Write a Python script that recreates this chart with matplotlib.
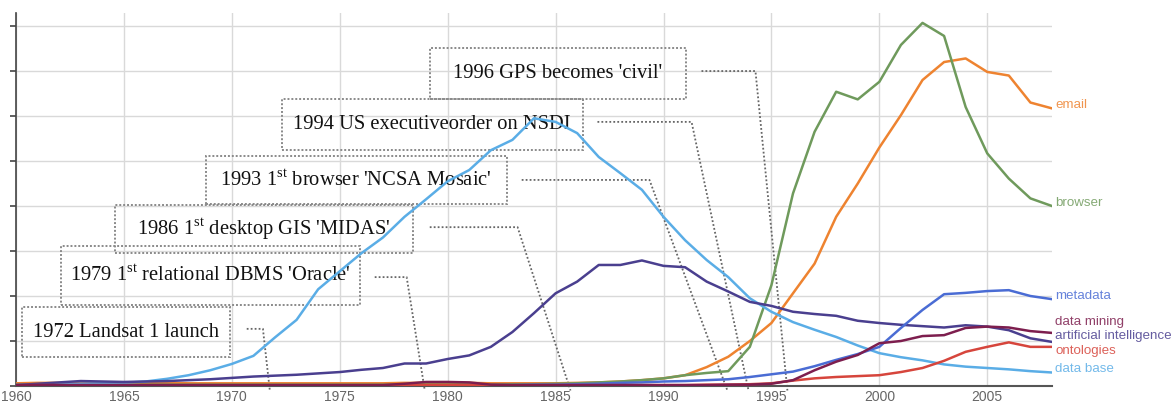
import matplotlib
matplotlib.use('Agg')
import matplotlib.pyplot as plt
from matplotlib.patches import Rectangle

# yearly relative frequencies (1 unit = one gridline step)
years = list(range(1960, 2009))

email = [0.06, 0.07, 0.07, 0.06, 0.06, 0.06, 0.06, 0.07, 0.06, 0.06,
         0.06, 0.06, 0.06, 0.06, 0.06, 0.06, 0.06, 0.06, 0.07, 0.07,
         0.07, 0.07, 0.06, 0.06, 0.06, 0.06, 0.07, 0.08, 0.10, 0.13,
         0.17, 0.24, 0.42, 0.65, 1.00, 1.40, 2.06, 2.72, 3.76, 4.50,
         5.30, 6.02, 6.80, 7.20, 7.28, 6.98, 6.90, 6.30, 6.17]
browser = [0.03, 0.03, 0.03, 0.03, 0.03, 0.03, 0.03, 0.03, 0.03, 0.03,
           0.03, 0.03, 0.03, 0.03, 0.03, 0.03, 0.03, 0.03, 0.03, 0.03,
           0.03, 0.03, 0.03, 0.04, 0.04, 0.05, 0.06, 0.08, 0.10, 0.13,
           0.17, 0.24, 0.29, 0.33, 0.87, 2.24, 4.28, 5.65, 6.54, 6.37,
           6.76, 7.58, 8.07, 7.78, 6.20, 5.17, 4.61, 4.17, 4.00]
data_base = [0.02, 0.03, 0.04, 0.05, 0.06, 0.07, 0.10, 0.16, 0.24, 0.35,
             0.49, 0.67, 1.08, 1.47, 2.15, 2.55, 2.95, 3.30, 3.76, 4.15,
             4.55, 4.80, 5.24, 5.47, 5.95, 5.87, 5.62, 5.09, 4.73, 4.36,
             3.76, 3.24, 2.80, 2.42, 1.95, 1.65, 1.42, 1.25, 1.09, 0.90,
             0.73, 0.64, 0.57, 0.48, 0.43, 0.40, 0.37, 0.33, 0.30]
artificial_intelligence = [0.02, 0.05, 0.08, 0.11, 0.10, 0.09, 0.10, 0.11, 0.13, 0.15,
                           0.18, 0.21, 0.23, 0.25, 0.28, 0.31, 0.36, 0.40, 0.50, 0.50,
                           0.60, 0.68, 0.87, 1.20, 1.62, 2.06, 2.32, 2.69, 2.69, 2.79,
                           2.67, 2.64, 2.32, 2.10, 1.87, 1.78, 1.65, 1.60, 1.56, 1.45,
                           1.40, 1.36, 1.33, 1.30, 1.35, 1.32, 1.24, 1.06, 0.98]
metadata = [0.01, 0.01, 0.01, 0.01, 0.01, 0.01, 0.01, 0.01, 0.01, 0.01,
            0.01, 0.01, 0.01, 0.01, 0.01, 0.01, 0.01, 0.01, 0.01, 0.01,
            0.01, 0.02, 0.02, 0.02, 0.03, 0.03, 0.04, 0.05, 0.07, 0.08,
            0.10, 0.11, 0.13, 0.15, 0.20, 0.26, 0.32, 0.44, 0.58, 0.71,
            0.87, 1.29, 1.69, 2.04, 2.07, 2.11, 2.13, 2.00, 1.93]
ontologies = [0.02, 0.02, 0.02, 0.02, 0.02, 0.02, 0.02, 0.02, 0.02, 0.02,
              0.02, 0.02, 0.02, 0.02, 0.02, 0.02, 0.02, 0.02, 0.02, 0.02,
              0.02, 0.02, 0.02, 0.02, 0.02, 0.02, 0.02, 0.02, 0.02, 0.02,
              0.02, 0.02, 0.03, 0.03, 0.04, 0.06, 0.12, 0.17, 0.20, 0.22,
              0.24, 0.31, 0.40, 0.56, 0.76, 0.87, 0.97, 0.87, 0.87]
data_mining = [0.02, 0.02, 0.02, 0.02, 0.02, 0.02, 0.02, 0.02, 0.02, 0.02,
               0.02, 0.02, 0.02, 0.02, 0.02, 0.02, 0.02, 0.02, 0.05, 0.09,
               0.09, 0.08, 0.03, 0.02, 0.02, 0.02, 0.02, 0.02, 0.02, 0.02,
               0.02, 0.02, 0.02, 0.03, 0.03, 0.05, 0.13, 0.35, 0.54, 0.69,
               0.95, 1.00, 1.11, 1.13, 1.29, 1.32, 1.30, 1.22, 1.18]

event_labels = ['1972 Landsat 1 launch',
                r"1979 1$^{\mathrm{st}}$ relational DBMS 'Oracle'",
                r"1986 1$^{\mathrm{st}}$ desktop GIS 'MIDAS'",
                r"1993 1$^{\mathrm{st}}$ browser 'NCSA Mosaic'",
                '1994 US executiveorder on NSDI',
                "1996 GPS becomes 'civil'"]
event_years = [1972, 1979, 1986, 1993, 1994, 1996]

# (series, label, colour, label y)
series = [
    (email, 'email', '#ee8330', 6.24),
    (browser, 'browser', '#6f9a5c', 4.07),
    (data_base, 'data base', '#5aade6', 0.38),
    (artificial_intelligence, 'artificial intelligence', '#4a3f8f', 1.11),
    (metadata, 'metadata', '#4a6cd4', 2.0),
    (ontologies, 'ontologies', '#d6453c', 0.78),
    (data_mining, 'data mining', '#7d1e4e', 1.42),
]

# box layout: (x0, x1, y0, y1, leader start x, leader corner x, leader y, end offset)
boxes = [
    (1960.28, 1969.90, 0.64, 1.76, 1970.69, 1971.44, 1.27, -0.24),
    (1962.08, 1975.93, 1.80, 3.11, 1976.62, 1978.10, 2.42, -0.06),
    (1964.58, 1978.38, 2.96, 4.02, 1979.17, 1983.24, 3.53, -0.31),
    (1968.80, 1982.73, 4.04, 5.11, 1983.43, 1989.35, 4.58, -0.04),
    (1972.31, 1986.25, 5.24, 6.38, 1986.94, 1991.30, 5.87, -0.06),
    (1979.17, 1991.02, 6.38, 7.51, 1991.76, 1994.26, 7.00, -0.26),
]

plt.rcParams['mathtext.fontset'] = 'custom'
plt.rcParams['mathtext.rm'] = 'Liberation Serif'

fig = plt.figure(figsize=(11.73, 4.05), dpi=100)
ax = fig.add_axes([16 / 1173, 19 / 405, 1036 / 1173, 373 / 405])

for vals, name, col, ly in series:
    ax.plot(years, vals, color=col, lw=1.8, solid_joinstyle='round', zorder=3)
    ax.text(2008.15, ly, name, color=col, fontsize=9.6, family='Liberation Sans',
            va='center', ha='left', alpha=0.85)

for (x0, x1, y0, y1, sx, cx, ly, off), lab, yr in zip(boxes, event_labels, event_years):
    ax.add_patch(Rectangle((x0, y0), x1 - x0, y1 - y0, fill=False, edgecolor='#8a8a8a',
                           lw=1.4, linestyle=(0, (1, 1)), zorder=2))
    ax.text((x0 + x1) / 2, (y0 + y1) / 2, lab, ha='center', va='center', fontsize=14.8,
            family='Liberation Serif', color='#111111', zorder=2)
    ax.plot([sx, cx, yr + off], [ly, ly, -0.1], color='#666666', lw=1.3,
            linestyle=(0, (1, 1.2)), clip_on=False, zorder=2)

ax.set_xlim(1960, 2008)
ax.set_ylim(0, 8.29)
ax.set_xticks(range(1960, 2009, 5))
ax.set_yticks(range(0, 9))
ax.set_yticklabels([])
ax.grid(True, color='#d9d9d9', lw=1)
ax.set_axisbelow(True)
for s in ['top', 'right']:
    ax.spines[s].set_visible(False)
ax.spines['left'].set_color('#444444')
ax.spines['left'].set_linewidth(1.2)
ax.spines['bottom'].set_color('#555555')
ax.spines['bottom'].set_linewidth(1.5)
ax.tick_params(axis='y', direction='out', length=4, color='#444444', width=1.2)
ax.tick_params(axis='x', length=0, pad=3, labelsize=10, labelcolor='#666666')
for t in ax.get_xticklabels():
    t.set_family('Liberation Sans')

fig.savefig('out.png', dpi=100)
